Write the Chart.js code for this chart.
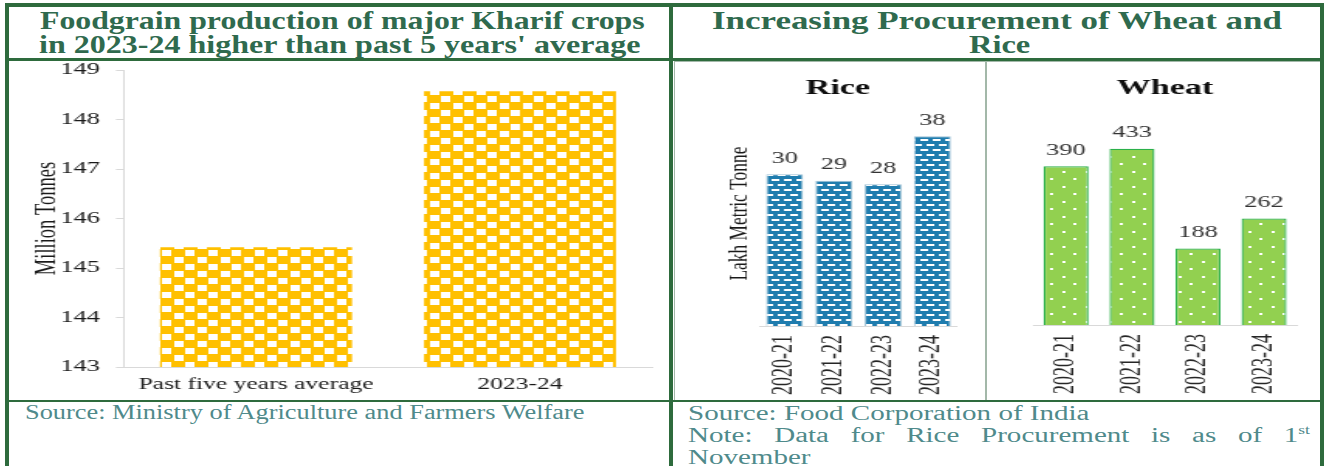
<!DOCTYPE html>
<html><head><meta charset="utf-8">
<script src="https://cdn.jsdelivr.net/npm/chart.js@4.4.1/dist/chart.umd.min.js"></script>
<style>
html,body{margin:0;padding:0;background:#fff;}
#page{position:relative;width:1326px;height:466px;overflow:hidden;background:#fff;font-family:'Liberation Serif','Times New Roman',serif;}
.ln{position:absolute;background:#2e6b3d;}
.sub{position:absolute;border:1px solid #a3b8a9;box-sizing:border-box;}
.t{position:absolute;white-space:nowrap;transform-origin:0 0;}
.hd{font-weight:bold;font-size:25px;line-height:26px;color:#2f6a4e;}
.ft{font-size:20px;line-height:22px;color:#4f8a8b;}
.ft sup{font-size:60%;line-height:0;vertical-align:super;}
canvas{position:absolute;transform-origin:0 0;}
</style></head><body>
<div id="page">
  <div class="sub" style="left:674px;top:61px;width:312px;height:340px"></div>
  <div class="sub" style="left:986px;top:61px;width:335px;height:340px"></div>
  <div class="ln" style="left:5px;top:3px;width:1319px;height:4px"></div>
  <div class="ln" style="left:5px;top:3px;width:4px;height:470px"></div>
  <div class="ln" style="left:1320px;top:3px;width:4px;height:470px"></div>
  <div class="ln" style="left:669px;top:3px;width:4px;height:470px"></div>
  <div class="ln" style="left:5px;top:58px;width:1319px;height:3px"></div>
  <div class="ln" style="left:5px;top:400px;width:1319px;height:2px"></div>

  <span class="t hd" id="hL1" style="left:40px;top:8px">Foodgrain production of major Kharif crops</span>
  <span class="t hd" id="hL2" style="left:39px;top:32px">in 2023-24 higher than past 5 years' average</span>
  <span class="t hd" id="hR1" style="left:712px;top:8px">Increasing Procurement of Wheat and</span>
  <span class="t hd" id="hR2" style="left:969px;top:32px">Rice</span>

  <span class="t ft" id="fL" style="left:25px;top:401px">Source: Ministry of Agriculture and Farmers Welfare</span>
  <span class="t ft" id="fR1" style="left:688px;top:402px">Source: Food Corporation of India</span>
  <div class="t ft" id="fR2" style="left:688px;top:424px;white-space:normal;text-align:justify;text-align-last:justify;">Note: Data for Rice Procurement is as of 1<sup>st</sup></div>
  <span class="t ft" id="fR3" style="left:688px;top:446px">November</span>

  <canvas id="cL"></canvas>
  <canvas id="cR"></canvas>
  <canvas id="cW"></canvas>
</div>
<script>
// ---------- data ----------
const kharifCategories = ['Past five years average', '2023-24'];
const kharifValues = [145.42, 148.57];
const kharifTicks = [143, 144, 145, 146, 147, 148, 149];
const procurementYears = ['2020-21', '2021-22', '2022-23', '2023-24'];
const riceValues = [30.4, 29.1, 28.4, 38.0];
const wheatValues = [390, 433, 188, 262];

// ---------- text fitting ----------
function fitText(id, width) {
  const el = document.getElementById(id);
  const s = width / el.offsetWidth;
  el.style.transform = 'scaleX(' + s + ')';
  return s;
}
fitText('hL1', 605); fitText('hL2', 602); fitText('hR1', 570); fitText('hR2', 61);
fitText('fL', 560);
const fs = fitText('fR1', 402);
const note = document.getElementById('fR2');
note.style.width = (622 / fs) + 'px';
note.style.transform = 'scaleX(' + fs + ')';
document.getElementById('fR3').style.transform = 'scaleX(' + fs + ')';

// ---------- chart setup ----------
Chart.defaults.font.family = "'Liberation Serif','Times New Roman',serif";
const S = 1.55;
function place(id, x0, y0, pageW, h) {
  const c = document.getElementById(id);
  const W = Math.round(pageW / S);
  c.width = W; c.height = h;
  c.style.width = W + 'px'; c.style.height = h + 'px';
  c.style.left = x0 + 'px'; c.style.top = y0 + 'px';
  c.style.transform = 'scaleX(' + S + ')';
  return {c, W};
}
const nx = (x0, px) => (px - x0) / S;

function makePattern(w, h, bg, fg, rects) {
  const c = document.createElement('canvas');
  c.width = w; c.height = h;
  const x = c.getContext('2d');
  x.fillStyle = bg; x.fillRect(0, 0, w, h);
  x.fillStyle = fg;
  rects.forEach(r => x.fillRect(r[0], r[1], r[2], r[3]));
  return x.createPattern(c, 'repeat');
}
const yellowPat = makePattern(15, 14, '#ffc000', '#ffffff', [[1,1,6,6],[8,8,6,6]]);
const bluePat = makePattern(8, 10, '#1f7cae', '#ffffff', [[1,1,5,2],[5,6,3,2],[0,6,2,2]]);
const greenPat = makePattern(15, 15, '#92d050', '#ffffff', [[3,3,2,2],[10,10,2,2]]);

const valueLabels = {
  id: 'valueLabels',
  afterDatasetsDraw(chart, args, opts) {
    const ctx = chart.ctx;
    chart.data.datasets.forEach((ds, i) => {
      chart.getDatasetMeta(i).data.forEach((bar, j) => {
        ctx.save();
        ctx.font = opts.size + 'px ' + Chart.defaults.font.family;
        ctx.fillStyle = opts.color;
        ctx.textAlign = 'center';
        ctx.textBaseline = 'middle';
        ctx.fillText(String(Math.round(ds.data[j])), bar.x, bar.y - opts.offset);
        ctx.restore();
      });
    });
  }
};

// ---------- left chart ----------
(function () {
  const x0 = 10, y0 = 46, h = 352;
  const {c, W} = place('cL', x0, y0, 658, h);
  const plotL = nx(x0, 124), plotR = nx(x0, 652);
  const tickLen = 8 / S;
  const yTitleFont = 18.5;
  new Chart(c, {
    type: 'bar',
    data: {labels: kharifCategories, datasets: [{data: kharifValues, backgroundColor: yellowPat, borderWidth: 0, barPercentage: 192 / S / ((plotR - plotL) / 2), categoryPercentage: 1}]},
    options: {
      responsive: false, animation: false,
      layout: {padding: {left: 0, top: 70 - y0, right: W - plotR, bottom: 0}},
      plugins: {legend: {display: false}, tooltip: {enabled: false}},
      scales: {
        x: {
          grid: {display: false, drawTicks: false},
          border: {display: true, color: '#d9d9d9'},
          ticks: {color: '#1a1a1a', font: {size: 16.5}, padding: 8, autoSkip: false, maxRotation: 0, minRotation: 0},
          afterFit: s => { s.height = (y0 + h) - 367; }
        },
        y: {
          min: kharifTicks[0], max: kharifTicks[kharifTicks.length - 1],
          afterBuildTicks: s => { s.ticks = kharifTicks.map(v => ({value: v})); },
          grid: {display: true, drawOnChartArea: false, drawTicks: true, tickLength: tickLen, color: '#d9d9d9'},
          border: {display: true, color: '#d9d9d9'},
          ticks: {color: '#1a1a1a', font: {size: 17}, padding: plotL - tickLen - nx(x0, 100)},
          title: {display: true, text: 'Million Tonnes', color: '#1a1a1a', font: {size: yTitleFont}, padding: {top: nx(x0, 48) - yTitleFont * 0.6, bottom: 0}},
          afterFit: s => { s.width = plotL; }
        }
      }
    }
  });
})();

// ---------- rice chart ----------
(function () {
  const x0 = 677, y0 = 63, h = 335;
  const {c, W} = place('cR', x0, y0, 307, h);
  const plotL = nx(x0, 760), plotR = nx(x0, 957);
  const L = 2 * nx(x0, 838) - plotR;
  const titleFont = 22, yTitleFont = 17.4;
  new Chart(c, {
    type: 'bar',
    data: {labels: procurementYears, datasets: [{data: riceValues, backgroundColor: bluePat, borderColor: '#9cc0d4', borderWidth: 1, barPercentage: 37 / S / ((plotR - plotL) / 4), categoryPercentage: 1}]},
    plugins: [valueLabels],
    options: {
      responsive: false, animation: false,
      layout: {padding: {left: L, top: 25 - 8 - titleFont * 0.6, right: W - plotR, bottom: 0}},
      plugins: {
        legend: {display: false}, tooltip: {enabled: false},
        title: {display: true, text: 'Rice', color: '#0d0d0d', font: {size: titleFont, weight: 'bold'}, padding: {top: 8, bottom: 0}},
        valueLabels: {size: 17, color: '#333333', offset: 16}
      },
      scales: {
        x: {
          grid: {display: false, drawTicks: false},
          border: {display: true, color: '#d9d9d9'},
          ticks: {color: '#262626', font: {size: 18}, padding: 9, autoSkip: false, maxRotation: 90, minRotation: 90},
          afterFit: s => { s.height = (y0 + h) - 326; }
        },
        y: {
          min: 0, max: 45,
          grid: {display: false, drawTicks: false},
          border: {display: false},
          ticks: {display: false},
          title: {display: true, text: 'Lakh Metric Tonne', color: '#1a1a1a', font: {size: yTitleFont}, padding: {top: nx(x0, 740) - L - yTitleFont * 0.6, bottom: 0}},
          afterFit: s => { s.width = plotL - L; }
        }
      }
    }
  });
})();

// ---------- wheat chart ----------
(function () {
  const x0 = 988, y0 = 63, h = 335;
  const {c, W} = place('cW', x0, y0, 330, h);
  const plotL = nx(x0, 1033), plotR = nx(x0, 1297);
  const titleFont = 22;
  new Chart(c, {
    type: 'bar',
    data: {labels: procurementYears, datasets: [{data: wheatValues, backgroundColor: greenPat, borderColor: '#2bb04a', borderWidth: 1.3, barPercentage: 45 / S / ((plotR - plotL) / 4), categoryPercentage: 1}]},
    plugins: [valueLabels],
    options: {
      responsive: false, animation: false,
      layout: {padding: {left: plotL, top: 25 - 8 - titleFont * 0.6, right: W - plotR, bottom: 0}},
      plugins: {
        legend: {display: false}, tooltip: {enabled: false},
        title: {display: true, text: 'Wheat', color: '#0d0d0d', font: {size: titleFont, weight: 'bold'}, padding: {top: 8, bottom: 0}},
        valueLabels: {size: 17, color: '#333333', offset: 16}
      },
      scales: {
        x: {
          grid: {display: false, drawTicks: false},
          border: {display: true, color: '#d9d9d9'},
          ticks: {color: '#262626', font: {size: 18}, padding: 9, autoSkip: false, maxRotation: 90, minRotation: 90},
          afterFit: s => { s.height = (y0 + h) - 325; }
        },
        y: {min: 0, max: 550, display: false}
      }
    }
  });
})();
</script>
</body></html>
